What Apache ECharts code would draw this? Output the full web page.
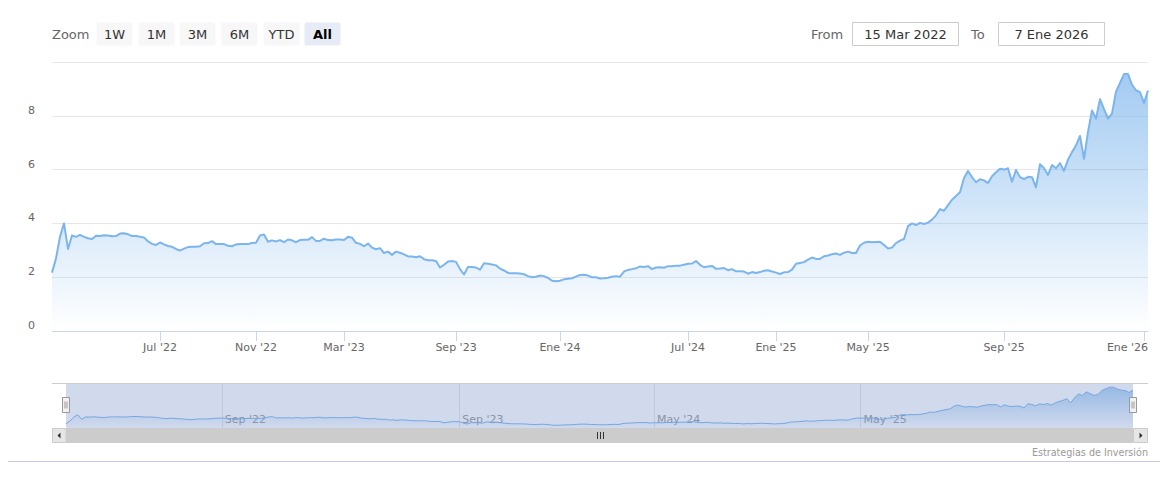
<!DOCTYPE html>
<html><head><meta charset="utf-8">
<script src="https://cdn.jsdelivr.net/npm/echarts@6/dist/echarts.min.js"></script>
<style>html,body{margin:0;padding:0;background:#fff}#c{width:1173px;height:482px}</style>
</head><body><div id="c"></div>
<script>
// ---- data (one value per trading sample, ordinal axis) ----
const values = [
 2.17, 2.7, 3.5, 4.0, 3.05, 3.55, 3.5, 3.57, 3.5, 3.45,
 3.42, 3.54, 3.53, 3.56, 3.55, 3.52, 3.53, 3.62, 3.63, 3.6,
 3.53, 3.53, 3.5, 3.48, 3.33, 3.24, 3.2, 3.29, 3.22, 3.16,
 3.13, 3.05, 2.99, 3.06, 3.12, 3.13, 3.13, 3.15, 3.26, 3.27,
 3.34, 3.23, 3.23, 3.23, 3.17, 3.15, 3.22, 3.23, 3.23, 3.23,
 3.27, 3.28, 3.55, 3.59, 3.32, 3.37, 3.33, 3.38, 3.3, 3.4,
 3.37, 3.3, 3.38, 3.39, 3.39, 3.49, 3.35, 3.35, 3.43, 3.38,
 3.37, 3.4, 3.4, 3.38, 3.5, 3.47, 3.28, 3.24, 3.15, 3.25,
 3.1, 3.04, 3.08, 2.9, 2.95, 2.83, 2.95, 2.91, 2.85, 2.77,
 2.77, 2.74, 2.78, 2.67, 2.63, 2.63, 2.6, 2.36, 2.46, 2.58,
 2.6, 2.57, 2.3, 2.1, 2.38, 2.38, 2.36, 2.28, 2.52, 2.5,
 2.47, 2.44, 2.32, 2.25, 2.16, 2.15, 2.15, 2.14, 2.11, 2.04,
 2.0, 2.02, 2.06, 2.04, 1.97, 1.87, 1.85, 1.87, 1.92, 1.94,
 1.96, 2.02, 2.08, 2.09, 2.06, 2.0, 2.0, 1.95, 1.96, 1.98,
 2.02, 2.04, 2.02, 2.21, 2.27, 2.3, 2.33, 2.4, 2.38, 2.41,
 2.3, 2.36, 2.37, 2.35, 2.41, 2.41, 2.43, 2.43, 2.46, 2.5,
 2.51, 2.6, 2.46, 2.37, 2.4, 2.42, 2.31, 2.32, 2.34, 2.26,
 2.3, 2.22, 2.22, 2.21, 2.13, 2.19, 2.16, 2.19, 2.24, 2.26,
 2.21, 2.17, 2.12, 2.18, 2.19, 2.28, 2.5, 2.53, 2.56, 2.65,
 2.73, 2.68, 2.68, 2.78, 2.81, 2.85, 2.88, 2.83, 2.91, 2.95,
 2.9, 2.9, 3.18, 3.28, 3.32, 3.3, 3.31, 3.32, 3.2, 3.07,
 3.1, 3.27, 3.36, 3.42, 3.9, 4.0, 3.94, 4.02, 3.98, 4.03,
 4.14, 4.3, 4.53, 4.47, 4.68, 4.88, 5.02, 5.16, 5.69, 5.95,
 5.72, 5.53, 5.64, 5.6, 5.5, 5.75, 5.9, 6.03, 6.0, 6.05,
 5.55, 5.99, 5.72, 5.65, 5.73, 5.72, 5.34, 6.2, 6.05, 5.8,
 6.17, 6.05, 6.24, 5.95, 6.37, 6.65, 6.9, 7.25, 6.4, 7.4,
 8.2, 7.89, 8.62, 8.25, 7.9, 8.08, 8.9, 9.22, 9.55, 9.55,
 9.15, 8.95, 8.88, 8.48, 8.94
];
const tickLabels = ["Jul '22","Nov '22","Mar '23","Sep '23","Ene '24","Jul '24","Ene '25","May '25","Sep '25","Ene '26"];
const tickSlots  = [27, 51, 73, 101, 127, 159, 181, 204, 238, 273];
const navTickLabels = ["Sep '22","Sep '23","May '24","May '25"];
const navTickSlots  = [40, 101, 151, 204];
const yMin = 0, yMax = 10, yStep = 2;
const zoomButtons = ["1W","1M","3M","6M","YTD","All"];
const zoomLabel = "Zoom";
const fromLabel = "From", toLabel = "To";
const fromDate = "15 Mar 2022", toDate = "7 Ene 2026";
const credit = "Estrategias de Inversión";

// ---- chart ----
const F = "'DejaVu Sans', Verdana, sans-serif";
const chart = echarts.init(document.getElementById('c'), null, {renderer: 'svg', width: 1173, height: 482});
const cats = values.map((v, i) => String(i));
const mainMap = {}; tickSlots.forEach((s, k) => mainMap[s] = tickLabels[k]);
const navMap = {}; navTickSlots.forEach((s, k) => navMap[s] = navTickLabels[k]);
const lastSlot = tickSlots[tickSlots.length - 1];

const grad = (a) => new echarts.graphic.LinearGradient(0, 0, 0, 1, [
  {offset: 0, color: 'rgba(124,181,236,' + a + ')'},
  {offset: 1, color: 'rgba(124,181,236,0)'}
]);

const G = [];
// range selector
G.push({type: 'text', style: {text: zoomLabel, x: 52, y: 34, fill: '#666', font: '13px ' + F, verticalAlign: 'middle'}});
zoomButtons.forEach((b, k) => {
  const x = Math.round(96 + k * 41.67) + 0.5;
  const sel = k === zoomButtons.length - 1;
  G.push({type: 'rect', shape: {x: x, y: 22.5, width: 36, height: 23, r: 2}, style: {fill: sel ? '#e6ebf5' : '#f7f7f7'}});
  G.push({type: 'text', style: {text: b, x: x + 18, y: 34, fill: sel ? '#000' : '#333', font: (sel ? 'bold ' : '') + '13px ' + F, align: 'center', verticalAlign: 'middle'}});
});
G.push({type: 'text', style: {text: fromLabel, x: 811, y: 34, fill: '#666', font: '13px ' + F, verticalAlign: 'middle'}});
G.push({type: 'rect', shape: {x: 852.5, y: 22.5, width: 106, height: 23}, style: {fill: '#fff', stroke: '#cccccc', lineWidth: 1}});
G.push({type: 'text', style: {text: fromDate, x: 905.5, y: 34, fill: '#333', font: '13px ' + F, align: 'center', verticalAlign: 'middle'}});
G.push({type: 'text', style: {text: toLabel, x: 971, y: 34, fill: '#666', font: '13px ' + F, verticalAlign: 'middle'}});
G.push({type: 'rect', shape: {x: 998.5, y: 22.5, width: 106, height: 23}, style: {fill: '#fff', stroke: '#cccccc', lineWidth: 1}});
G.push({type: 'text', style: {text: toDate, x: 1051.5, y: 34, fill: '#333', font: '13px ' + F, align: 'center', verticalAlign: 'middle'}});

// navigator mask, outline, handles
const navL = 66, navW = 1067, navT = 384, navH = 44;
G.push({type: 'rect', z: 50, shape: {x: navL, y: navT, width: navW, height: navH}, style: {fill: 'rgba(102,133,194,0.3)'}});
G.push({type: 'line', z: 51, shape: {x1: 52, y1: 383.5, x2: 1148, y2: 383.5}, style: {stroke: '#cccccc', lineWidth: 1}});
[navL, navL + navW].forEach(cx => {
  const hx = Math.round(cx) - 3.5, hy = 397.5;
  G.push({type: 'rect', z: 52, shape: {x: hx, y: hy, width: 7, height: 15}, style: {fill: '#f2f2f2', stroke: '#999999', lineWidth: 1}});
  G.push({type: 'line', z: 53, shape: {x1: hx + 2.5, y1: hy + 4, x2: hx + 2.5, y2: hy + 11}, style: {stroke: '#999999', lineWidth: 1}});
  G.push({type: 'line', z: 53, shape: {x1: hx + 4.5, y1: hy + 4, x2: hx + 4.5, y2: hy + 11}, style: {stroke: '#999999', lineWidth: 1}});
});
// scrollbar
const sbT = 428.5, sbH = 14;
G.push({type: 'rect', z: 50, shape: {x: 52.5, y: sbT, width: 1095, height: sbH}, style: {fill: '#f2f2f2', stroke: '#f2f2f2'}});
G.push({type: 'rect', z: 51, shape: {x: navL + 0.5, y: sbT, width: navW - 1, height: sbH}, style: {fill: '#cccccc', stroke: '#cccccc'}});
G.push({type: 'rect', z: 51, shape: {x: 52.5, y: sbT, width: 13.5, height: sbH}, style: {fill: '#e6e6e6', stroke: '#cccccc'}});
G.push({type: 'rect', z: 51, shape: {x: 1133.5, y: sbT, width: 14, height: sbH}, style: {fill: '#e6e6e6', stroke: '#cccccc'}});
G.push({type: 'polygon', z: 52, shape: {points: [[57.5, 435.5], [60.5, 432.5], [60.5, 438.5]]}, style: {fill: '#333'}});
G.push({type: 'polygon', z: 52, shape: {points: [[1142.5, 435.5], [1139.5, 432.5], [1139.5, 438.5]]}, style: {fill: '#333'}});
const mid = Math.round(navL + navW / 2);
[-3, 0, 3].forEach(d => G.push({type: 'line', z: 52, shape: {x1: mid + d + 0.5, y1: 432, x2: mid + d + 0.5, y2: 439}, style: {stroke: '#333', lineWidth: 1}}));
// credits + bottom rule
G.push({type: 'text', style: {text: credit, x: 1148, y: 452, fill: '#999', font: '9.6px ' + F, align: 'right', verticalAlign: 'middle'}});
G.push({type: 'line', shape: {x1: 8, y1: 461.5, x2: 1160, y2: 461.5}, style: {stroke: '#c8c8e4', lineWidth: 1}});

const option = {
  animation: false,
  textStyle: {fontFamily: F},
  grid: [
    {left: 52, right: 25, top: 62, bottom: 151},
    {left: navL, width: navW, top: navT, height: navH}
  ],
  xAxis: [
    {gridIndex: 0, type: 'category', boundaryGap: false, data: cats,
     axisLine: {lineStyle: {color: '#ccd6eb', width: 1}},
     axisTick: {length: 10, interval: (i) => mainMap[i] !== undefined, lineStyle: {color: '#ccd6eb'}},
     axisLabel: {interval: (i) => mainMap[i] !== undefined, margin: 11, color: '#666', fontSize: 11, fontFamily: F,
       formatter: (v, i) => { const s = mainMap[+v]; if (s === undefined) return ''; return (+v === lastSlot) ? '{r|' + s + '}' : s; },
       rich: {r: {padding: [0, 33, 0, 0], color: '#666', fontSize: 11, fontFamily: F}}},
     splitLine: {show: false}},
    {gridIndex: 1, type: 'category', boundaryGap: false, data: cats,
     axisLine: {show: false}, axisTick: {show: false},
     splitLine: {show: true, interval: (i) => navMap[i] !== undefined, lineStyle: {color: '#e6e6e6'}},
     axisLabel: {inside: true, interval: (i) => navMap[i] !== undefined, margin: 3, align: 'left', padding: [0, 0, 0, 3],
       color: '#999', fontSize: 11, fontFamily: F, formatter: (v) => navMap[+v] || ''}}
  ],
  yAxis: [
    {gridIndex: 0, type: 'value', min: yMin, max: yMax, interval: yStep,
     axisLine: {show: false}, axisTick: {show: false},
     splitLine: {lineStyle: {color: '#e6e6e6'}},
     axisLabel: {showMaxLabel: false, color: '#666', fontSize: 11, fontFamily: F, align: 'left', margin: 24, verticalAlign: 'bottom'}},
    {gridIndex: 1, type: 'value', min: 1.3, max: 10.2, show: false, splitLine: {show: false}}
  ],
  series: [
    {type: 'line', xAxisIndex: 0, yAxisIndex: 0, data: values, symbol: 'none', showSymbol: false,
     lineStyle: {color: '#7cb5ec', width: 2, join: 'round'}, itemStyle: {color: '#7cb5ec'},
     areaStyle: {color: grad(1)}},
    {type: 'line', xAxisIndex: 1, yAxisIndex: 1, data: values, symbol: 'none', showSymbol: false,
     lineStyle: {color: '#7cb5ec', width: 1, join: 'round'}, itemStyle: {color: '#7cb5ec'},
     areaStyle: {color: grad(0.9), origin: 'start'}}
  ],
  graphic: G
};
chart.setOption(option);
</script>
</body></html>
